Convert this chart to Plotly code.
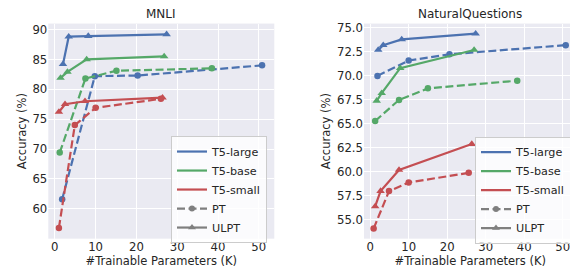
import plotly.graph_objects as go

# ---------------- data ----------------
# MNLI
mnli_large_pt_x = [1.8, 9.8, 20.3, 50.8]
mnli_large_pt_y = [61.6, 82.2, 82.3, 84.0]
mnli_base_pt_x = [1.2, 7.5, 15.1, 38.5]
mnli_base_pt_y = [69.4, 81.8, 83.1, 83.5]
mnli_small_pt_x = [1.0, 4.9, 10.0, 26.0]
mnli_small_pt_y = [56.8, 74.0, 76.9, 78.4]
mnli_large_ulpt_x = [2.0, 3.4, 8.2, 27.4]
mnli_large_ulpt_y = [84.2, 88.8, 88.9, 89.2]
mnli_base_ulpt_x = [1.4, 3.1, 7.8, 26.8]
mnli_base_ulpt_y = [81.9, 82.9, 85.0, 85.5]
mnli_small_ulpt_x = [1.0, 2.5, 7.4, 26.4]
mnli_small_ulpt_y = [76.2, 77.5, 78.0, 78.6]

# NaturalQuestions
nq_large_pt_x = [1.9, 10.0, 20.6, 50.8]
nq_large_pt_y = [70.0, 71.6, 72.25, 73.2]
nq_base_pt_x = [1.3, 7.5, 15.0, 38.2]
nq_base_pt_y = [65.3, 67.5, 68.7, 69.5]
nq_small_pt_x = [0.9, 4.9, 10.0, 25.6]
nq_small_pt_y = [54.1, 58.0, 58.9, 59.9]
nq_large_ulpt_x = [2.1, 3.4, 8.2, 27.4]
nq_large_ulpt_y = [72.7, 73.2, 73.8, 74.4]
nq_base_ulpt_x = [1.7, 3.0, 7.8, 27.0]
nq_base_ulpt_y = [67.4, 68.2, 70.8, 72.7]
nq_small_ulpt_x = [1.3, 2.7, 7.5, 26.4]
nq_small_ulpt_y = [56.4, 58.0, 60.2, 62.9]

models = ["T5-large", "T5-base", "T5-small"]
methods = ["PT", "ULPT"]
panel_titles = ["MNLI", "NaturalQuestions"]
x_ticks = [0, 10, 20, 30, 40, 50]
mnli_y_ticks = [60, 65, 70, 75, 80, 85, 90]
nq_y_ticks = [55.0, 57.5, 60.0, 62.5, 65.0, 67.5, 70.0, 72.5, 75.0]

# ---------------- style ----------------
colors = {"T5-large": "#4C72B0", "T5-base": "#55A868", "T5-small": "#C44E52"}
GRAY = "#7f7f7f"
BG = "#EAEAF2"
TXT = "#262626"
DASH = "8px,3.5px"
FONT = "DejaVu Sans"

# page body has an 8px margin; lay the figure out in page pixels minus that offset
OFF = 8
W, H = 578 - OFF, 269 - OFF


def px_x(p):
    return (p - OFF) / W


def px_y(p):
    return 1 - (p - OFF) / H


fig = go.Figure()

panels = [
    ("x", "y", "legend", {
        "T5-large": (mnli_large_pt_x, mnli_large_pt_y, mnli_large_ulpt_x, mnli_large_ulpt_y),
        "T5-base": (mnli_base_pt_x, mnli_base_pt_y, mnli_base_ulpt_x, mnli_base_ulpt_y),
        "T5-small": (mnli_small_pt_x, mnli_small_pt_y, mnli_small_ulpt_x, mnli_small_ulpt_y),
    }),
    ("x2", "y2", "legend2", {
        "T5-large": (nq_large_pt_x, nq_large_pt_y, nq_large_ulpt_x, nq_large_ulpt_y),
        "T5-base": (nq_base_pt_x, nq_base_pt_y, nq_base_ulpt_x, nq_base_ulpt_y),
        "T5-small": (nq_small_pt_x, nq_small_pt_y, nq_small_ulpt_x, nq_small_ulpt_y),
    }),
]

for xa, ya, leg, data in panels:
    for m in models:
        px_, py_, ux, uy = data[m]
        fig.add_trace(go.Scatter(
            x=px_, y=py_, xaxis=xa, yaxis=ya, mode="lines+markers",
            line=dict(color=colors[m], width=2.2, dash=DASH),
            marker=dict(symbol="circle", size=6.5, color=colors[m]),
            showlegend=False, hoverinfo="skip"))
        fig.add_trace(go.Scatter(
            x=ux, y=uy, xaxis=xa, yaxis=ya, mode="lines+markers",
            line=dict(color=colors[m], width=2.2),
            marker=dict(symbol="triangle-up", size=7.5, color=colors[m]),
            showlegend=False, hoverinfo="skip"))
    # legend entries
    for m in models:
        fig.add_trace(go.Scatter(
            x=[None], y=[None], xaxis=xa, yaxis=ya, mode="lines", name=m,
            line=dict(color=colors[m], width=2.2), legend=leg, showlegend=True))
    fig.add_trace(go.Scatter(
        x=[None], y=[None], xaxis=xa, yaxis=ya, mode="lines+markers", name="PT",
        line=dict(color=GRAY, width=2.2, dash=DASH),
        marker=dict(symbol="circle", size=6, color=GRAY), legend=leg, showlegend=True))
    fig.add_trace(go.Scatter(
        x=[None], y=[None], xaxis=xa, yaxis=ya, mode="lines+markers", name="ULPT",
        line=dict(color=GRAY, width=2.2),
        marker=dict(symbol="triangle-up", size=7, color=GRAY), legend=leg, showlegend=True))

axis_common = dict(
    showgrid=True, gridcolor="white", gridwidth=1, zeroline=False,
    showline=False, ticks="", tickfont=dict(family=FONT, size=11.7, color=TXT),
    title_font=dict(family=FONT, size=11.5, color=TXT),
)

left_dom = [px_x(48.3), px_x(274.3)]
right_dom = [px_x(364.0), px_x(576.5)]
y_dom = [px_y(238.3), px_y(20.7)]

legend_common = dict(
    bgcolor="rgba(255,255,255,0.8)", bordercolor="#CCCCCC", borderwidth=1,
    font=dict(family=FONT, size=11.2, color=TXT), xanchor="left", yanchor="top",
    tracegroupgap=0, itemwidth=30,
)

fig.update_layout(
    width=W, height=H, margin=dict(l=0, r=0, t=0, b=0),
    paper_bgcolor="white", plot_bgcolor=BG,
    font=dict(family=FONT, size=11, color=TXT),
    xaxis=dict(domain=left_dom, range=[-1.6, 53.8], tickvals=x_ticks,
               title=dict(text="#Trainable Parameters (K)", standoff=3), anchor="y", **axis_common),
    yaxis=dict(domain=y_dom, range=[55.0, 91.0], tickvals=mnli_y_ticks,
               title=dict(text="Accuracy (%)", standoff=3), anchor="x", **axis_common),
    xaxis2=dict(domain=right_dom, range=[-1.6, 53.6], tickvals=x_ticks,
                title=dict(text="#Trainable Parameters (K)", standoff=3), anchor="y2", **axis_common),
    yaxis2=dict(domain=y_dom, range=[53.05, 75.45], tickvals=nq_y_ticks, tickformat=".1f",
                title=dict(text="Accuracy (%)", standoff=3), anchor="x2", **axis_common),
    legend=dict(x=px_x(171), y=px_y(134.5), **legend_common),
    legend2=dict(x=px_x(475), y=px_y(135), **legend_common),
    annotations=[
        dict(text=panel_titles[0], x=(left_dom[0] + left_dom[1]) / 2, y=px_y(11.5),
             xref="paper", yref="paper", showarrow=False, xanchor="center", yanchor="middle",
             font=dict(family=FONT, size=12, color=TXT)),
        dict(text=panel_titles[1], x=(right_dom[0] + right_dom[1]) / 2, y=px_y(11.5),
             xref="paper", yref="paper", showarrow=False, xanchor="center", yanchor="middle",
             font=dict(family=FONT, size=12, color=TXT)),
    ],
)

fig.write_html("out.html")
